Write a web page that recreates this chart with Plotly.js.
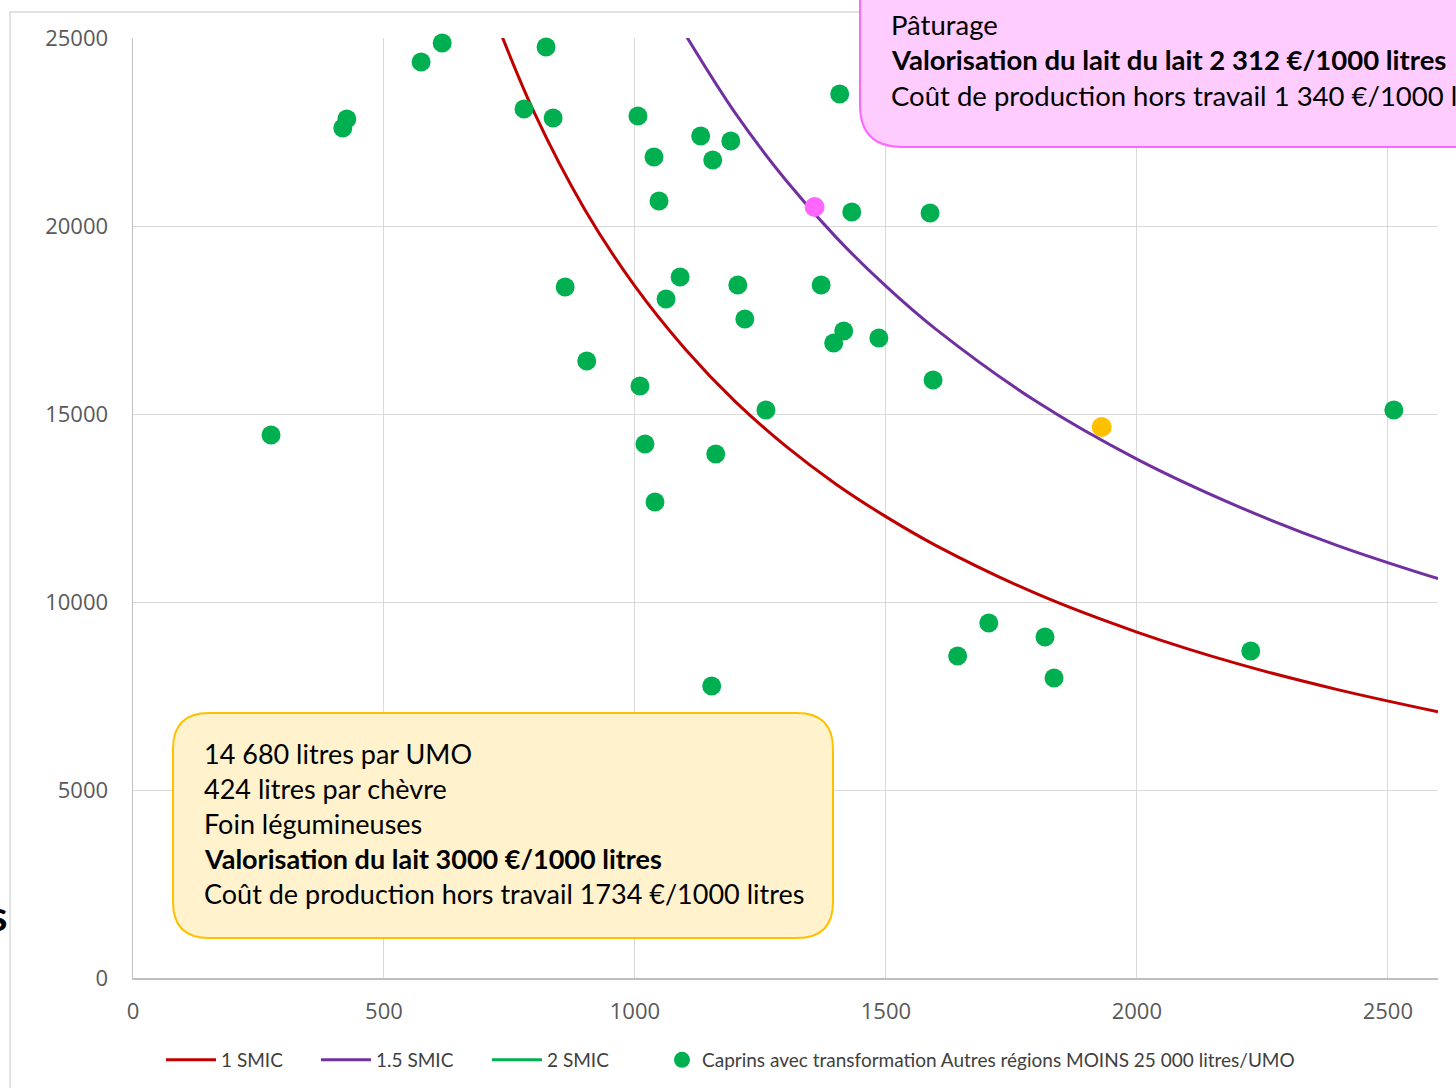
<!DOCTYPE html>
<html>
<head>
<meta charset="utf-8">
<script src="https://cdn.plot.ly/plotly-3.0.1.min.js"></script>
<style>html,body{margin:0;padding:0;background:#fff;}#chart{width:1456px;height:1088px;}</style>
</head>
<body>
<div id="chart"></div>
<script>
// ---- Data ----
const xTickVals = [0, 500, 1000, 1500, 2000, 2500];
const yTickVals = [0, 5000, 10000, 15000, 20000, 25000];

// 1 SMIC curve
const smic1X = [720, 800, 900, 1000, 1100, 1200, 1300, 1400, 1500, 1600, 1800, 2000, 2200, 2400, 2600];
const smic1Y = [25560, 23000, 20440, 18400, 16730, 15330, 14150, 13140, 12270, 11500, 10220, 9200, 8360, 7670, 7080];

// 1.5 SMIC curve
const smic15X = [1090, 1200, 1300, 1400, 1500, 1600, 1800, 2000, 2200, 2400, 2600];
const smic15Y = [25320, 23000, 21230, 19710, 18400, 17250, 15330, 13800, 12550, 11500, 10620];

// 2 SMIC (no visible points in the reference, legend entry only)
const smic2X = [null];
const smic2Y = [null];

// Caprins avec transformation Autres régions MOINS 25 000 litres/UMO
const capX = [275, 418, 426, 574, 616, 779, 823, 837, 861, 904, 1006, 1038, 1048, 1010, 1020, 1040, 1090, 1062, 1131, 1155,
              1191, 1205, 1219, 1161, 1261, 1153, 1408, 1432, 1371, 1416, 1396, 1486, 1588, 1594, 1643, 1705, 1817, 1835, 2227, 2512];
const capY = [14441, 22606, 22846, 24362, 24867, 23112, 24761, 22872, 18378, 16410, 22926, 21835, 20665, 15745, 14202, 12660, 18644, 18059, 22394, 21755,
              22261, 18431, 17527, 13936, 15106, 7766, 23511, 20372, 18431, 17207, 16888, 17021, 20346, 15904, 8564, 9441, 9069, 7979, 8697, 15106];

// Highlighted farms
const pinkX = [1358];
const pinkY = [20505];
const orangeX = [1930];
const orangeY = [14654];

const legendNames = ["1 SMIC", "1.5 SMIC", "2 SMIC", "Caprins avec transformation Autres régions MOINS 25 000 litres/UMO"];

const yellowLines = [
  "14 680 litres par UMO",
  "424 litres par chèvre",
  "Foin légumineuses",
  "<b>Valorisation du lait 3000 €/1000 litres</b>",
  "Coût de production hors travail 1734 €/1000 litres"
];
const pinkLines = [
  "Pâturage",
  "<b>Valorisation du lait du lait 2 312 €/1000 litres</b>",
  "Coût de production hors travail 1 340 €/1000 litres"
];

// ---- Layout helpers (pixel -> paper) ----
const W = 1456, H = 1088;
const M = {l: 133, r: 18, t: 38, b: 110, autoexpand: false};
const PW = W - M.l - M.r, PH = H - M.t - M.b;
const px = x => (x - M.l) / PW;
const py = y => (H - M.b - y) / PH;

function roundRect(l, t, r, b, rad) {
  const f = (x, y) => px(x).toFixed(5) + ',' + py(y).toFixed(5);
  return 'M' + f(l + rad, t) + ' L' + f(r - rad, t) + ' Q' + f(r, t) + ' ' + f(r, t + rad) +
         ' L' + f(r, b - rad) + ' Q' + f(r, b) + ' ' + f(r - rad, b) +
         ' L' + f(l + rad, b) + ' Q' + f(l, b) + ' ' + f(l, b - rad) +
         ' L' + f(l, t + rad) + ' Q' + f(l, t) + ' ' + f(l + rad, t) + ' Z';
}

const traces = [
  {x: smic1X, y: smic1Y, mode: 'lines', name: legendNames[0], legend: 'legend', line: {color: '#C00000', width: 3, shape: 'spline'}},
  {x: smic15X, y: smic15Y, mode: 'lines', name: legendNames[1], legend: 'legend2', line: {color: '#7030A0', width: 3, shape: 'spline'}},
  {x: smic2X, y: smic2Y, mode: 'lines', name: legendNames[2], legend: 'legend3', line: {color: '#00B050', width: 3}},
  {x: capX, y: capY, mode: 'markers', name: legendNames[3], legend: 'legend4', marker: {color: '#00B050', size: 19}, cliponaxis: false},
  {x: pinkX, y: pinkY, mode: 'markers', showlegend: false, marker: {color: '#FF66FF', size: 20}},
  {x: orangeX, y: orangeY, mode: 'markers', showlegend: false, marker: {color: '#FFC000', size: 20}}
];

const annotations = [];
const yellowY = [753, 788, 823, 858, 893];
yellowLines.forEach((t, i) => annotations.push({
  xref: 'paper', yref: 'paper', x: px(202), y: py(yellowY[i]), xanchor: 'left', yanchor: 'middle',
  text: t, showarrow: false, align: 'left', font: {family: 'Lato, sans-serif', size: 27, color: '#000'}
}));
const pinkY2 = [24, 60, 95];
pinkLines.forEach((t, i) => annotations.push({
  xref: 'paper', yref: 'paper', x: px(889), y: py(pinkY2[i]), xanchor: 'left', yanchor: 'middle',
  text: t, showarrow: false, align: 'left', font: {family: 'Lato, sans-serif', size: 27.5, color: '#000'}
}));
annotations.push({
  xref: 'paper', yref: 'paper', x: px(9), y: py(915), xanchor: 'right', yanchor: 'middle',
  text: '<b>s</b>', showarrow: false, font: {family: 'Lato, sans-serif', size: 42, color: '#000'}
});

const shapes = [
  {type: 'path', xref: 'paper', yref: 'paper', path:
    'M' + px(10) + ',' + py(1100) + ' L' + px(10) + ',' + py(12) + ' L' + px(1470) + ',' + py(12),
   line: {color: '#D9D9D9', width: 1.5}},
  {type: 'path', xref: 'paper', yref: 'paper', layer: 'above', path: roundRect(173, 713, 833, 938, 36),
   fillcolor: '#FFF2CC', line: {color: '#FFC000', width: 2}},
  {type: 'path', xref: 'paper', yref: 'paper', layer: 'above', path: roundRect(860, -60, 1500, 147, 42),
   fillcolor: '#FFCCFF', line: {color: '#FF66FF', width: 2}}
];

const legendFont = {family: 'Lato, sans-serif', size: 19, color: '#404040'};
const legendTextX = [221, 376, 547, 702];
const legendItemW = [50, 50, 50, 30];
function mkLegend(i) {
  return {orientation: 'h', x: px(legendTextX[i] - legendItemW[i] - 10), y: py(1060), xanchor: 'left', yanchor: 'middle',
          itemwidth: legendItemW[i], font: legendFont, bgcolor: 'rgba(0,0,0,0)'};
}
const layout = {
  width: W, height: H,
  margin: M,
  paper_bgcolor: '#fff', plot_bgcolor: '#fff',
  showlegend: true,
  legend: mkLegend(0),
  legend2: mkLegend(1),
  legend3: mkLegend(2),
  legend4: mkLegend(3),
  xaxis: {range: [0, 2600], tickvals: xTickVals, ticktext: xTickVals.map(String),
          showgrid: true, gridcolor: '#D9D9D9', gridwidth: 1, zeroline: false, automargin: false,
          showline: true, linecolor: '#BFBFBF', linewidth: 1.5, ticks: '', ticklabelstandoff: 13,
          tickfont: {family: 'Open Sans, sans-serif', size: 22, color: '#595959'}, fixedrange: true},
  yaxis: {range: [0, 25000], tickvals: yTickVals, ticktext: yTickVals.map(String),
          showgrid: true, gridcolor: '#D9D9D9', gridwidth: 1, zeroline: false, automargin: false,
          showline: true, linecolor: '#BFBFBF', linewidth: 1.5, ticks: '', ticklabelstandoff: 19,
          tickfont: {family: 'Open Sans, sans-serif', size: 22, color: '#595959'}, fixedrange: true},
  annotations: annotations,
  shapes: shapes
};

Plotly.newPlot('chart', traces, layout, {staticPlot: true, displayModeBar: false});
</script>
</body>
</html>
